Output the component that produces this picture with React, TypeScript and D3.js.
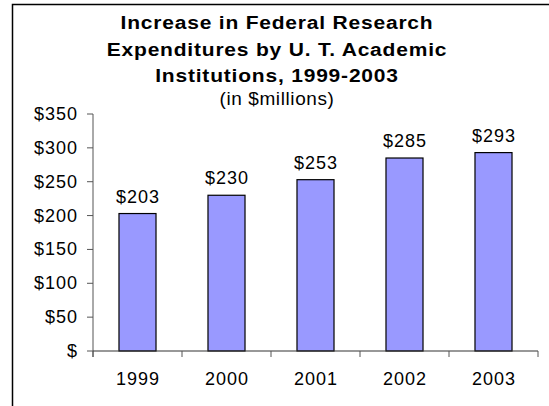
import React from "react";
import * as d3 from "d3";

const years = ["1999", "2000", "2001", "2002", "2003"];
const values = [203, 230, 253, 285, 293];
const yTicks = [0, 50, 100, 150, 200, 250, 300, 350];
const titleLines = [
  "Increase in Federal Research",
  "Expenditures by U. T. Academic",
  "Institutions, 1999-2003",
];
const subtitle = "(in $millions)";

const W = 549;
const H = 406;
const FONT = "'Liberation Sans', Arial, sans-serif";

export default function App() {
  const x = d3
    .scaleBand<string>()
    .domain(years)
    .range([93, 538])
    .paddingInner(0.584)
    .paddingOuter(0.292);
  const xb = d3.scaleBand<string>().domain(years).range([93, 538]).padding(0);
  const y = d3.scaleLinear().domain([0, 350]).range([351, 114]);
  const fmt = (v: number) => (v === 0 ? "$" : `$${v}`);
  const boundaries = [...years.map((d) => xb(d) as number), 538];

  return (
    <svg
      width={W}
      height={H}
      style={{ position: "absolute", left: 0, top: 0, background: "#fff" }}
      fontFamily={FONT}
    >
      <rect x={0} y={0} width={W} height={H} fill="#fff" />
      <rect
        x={12.5}
        y={4.5}
        width={W + 20}
        height={H + 20}
        fill="none"
        stroke="#000"
        strokeWidth={1.5}
      />
      {titleLines.map((t, i) => (
        <text
          key={t}
          transform={`translate(277,${29 + i * 26.5}) scale(1,0.86)`}
          textAnchor="middle"
          fontWeight="bold"
          fontSize={21}
          letterSpacing={0.8}
          fill="#000"
        >
          {t}
        </text>
      ))}
      <text
        transform="translate(277,105) scale(1,0.92)"
        textAnchor="middle"
        fontSize={19}
        letterSpacing={0.6}
        fill="#000"
      >
        {subtitle}
      </text>

      {/* y axis */}
      <line x1={93} x2={93} y1={y(350)} y2={y(0) + 6} stroke="#555" strokeWidth={1} />
      {yTicks.map((t) => (
        <g key={t}>
          <line x1={87} x2={93} y1={y(t)} y2={y(t)} stroke="#555" strokeWidth={1} />
          <text
            x={78}
            y={y(t) + 6}
            textAnchor="end"
            fontSize={18}
            letterSpacing={1}
            fill="#000"
          >
            {fmt(t)}
          </text>
        </g>
      ))}

      {/* bars */}
      {years.map((yr, i) => (
        <g key={yr}>
          <rect
            x={x(yr)}
            y={y(values[i])}
            width={x.bandwidth()}
            height={y(0) - y(values[i])}
            fill="#9999FF"
            stroke="#000"
            strokeWidth={1.2}
          />
          <text
            x={(x(yr) as number) + x.bandwidth() / 2 + 0.5}
            y={y(values[i]) - 11}
            textAnchor="middle"
            fontSize={18}
            letterSpacing={1}
            fill="#000"
          >
            {`$${values[i]}`}
          </text>
          <text
            x={(x(yr) as number) + x.bandwidth() / 2 + 0.5}
            y={385}
            textAnchor="middle"
            fontSize={18}
            letterSpacing={1}
            fill="#000"
          >
            {yr}
          </text>
        </g>
      ))}

      {/* x axis */}
      <line x1={93} x2={538} y1={y(0)} y2={y(0)} stroke="#333" strokeWidth={1.2} />
      {boundaries.map((b, i) => (
        <line key={i} x1={b} x2={b} y1={y(0)} y2={y(0) + 6} stroke="#555" strokeWidth={1} />
      ))}
    </svg>
  );
}
